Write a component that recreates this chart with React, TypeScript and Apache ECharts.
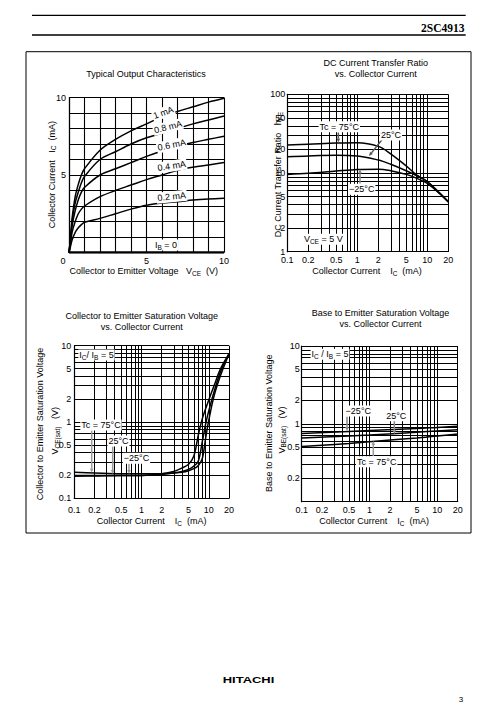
import React, { useEffect, useRef } from 'react';
import * as echarts from 'echarts';

// ---------- Chart 1: Typical Output Characteristics ----------
const vce1 = [0, 0.1, 0.2, 0.4, 0.6, 0.8, 1, 2, 3, 4, 5, 6, 7, 8, 9, 10];
const icIb10 = [0, 1.0, 2.2, 3.6, 4.4, 5.0, 5.4, 6.6, 7.3, 7.85, 8.3, 8.75, 9.1, 9.4, 9.7, 9.95];
const icIb08 = [0, 0.9, 2.0, 3.2, 3.9, 4.5, 4.9, 6.0, 6.5, 7.0, 7.4, 7.7, 8.0, 8.3, 8.55, 8.8];
const icIb06 = [0, 0.8, 1.7, 2.7, 3.4, 3.9, 4.2, 5.0, 5.4, 5.8, 6.2, 6.55, 6.85, 7.1, 7.3, 7.5];
const icIb04 = [0, 0.6, 1.3, 2.0, 2.5, 2.8, 3.0, 3.6, 4.0, 4.35, 4.7, 5.0, 5.3, 5.5, 5.65, 5.8];
const icIb02 = [0, 0.4, 0.8, 1.3, 1.6, 1.8, 1.95, 2.2, 2.5, 2.8, 3.05, 3.2, 3.28, 3.38, 3.45, 3.5];
const icIb00 = [0, 0, 0, 0, 0, 0, 0, 0, 0, 0, 0, 0, 0, 0, 0, 0];
const ticks1Labels = [5, 10];

// ---------- Chart 2: hFE vs Ic ----------
const ic2 = [0.1, 0.2, 0.5, 1, 2, 3, 5, 7, 10, 15, 20];
const hfe75 = [22.7, 23.2, 24.0, 24.3, 21.8, 17.5, 12.3, 9.5, 7.8, 5.5, 4.3];
const hfe25 = [16.1, 16.5, 16.8, 16.5, 14.6, 12.9, 10.7, 9.3, 7.8, 5.6, 4.3];
const hfeM25 = [9.6, 9.9, 10.6, 11.1, 11.2, 10.7, 9.6, 8.6, 7.4, 5.5, 4.3];

// ---------- Chart 3: VCE(sat) vs Ic ----------
const ic3 = [0.1, 0.2, 0.5, 1, 2, 3, 4, 5, 6, 7, 8, 9, 10, 12, 15, 20];
const vceM25 = [0.195, 0.197, 0.2, 0.2, 0.21, 0.225, 0.25, 0.28, 0.36, 0.68, 1.1, 1.5, 1.95, 3.0, 5.0, 7.8];
const vce25 = [0.2, 0.2, 0.2, 0.2, 0.205, 0.215, 0.225, 0.24, 0.265, 0.31, 0.55, 0.95, 1.4, 2.5, 4.6, 7.8];
const vce75 = [0.22, 0.215, 0.21, 0.21, 0.21, 0.215, 0.22, 0.23, 0.245, 0.27, 0.33, 0.62, 1.05, 2.2, 4.1, 7.8];

// ---------- Chart 4: VBE(sat) vs Ic ----------
const ic4 = [0.1, 0.5, 1, 5, 10, 20];
const vbeM25 = [0.75, 0.8, 0.82, 0.87, 0.9, 0.93];
const vbe25 = [0.66, 0.7, 0.72, 0.78, 0.81, 0.84];
const vbe75 = [0.51, 0.56, 0.59, 0.66, 0.7, 0.74];

// ---------- Log-grid ticks and labels ----------
const xGridLog = [0.1, 0.2, 0.3, 0.4, 0.5, 0.6, 0.7, 0.8, 0.9, 1, 2, 3, 4, 5, 6, 7, 8, 9, 10, 20];
const yGrid2 = [1, 2, 3, 4, 5, 6, 7, 8, 9, 10, 20, 30, 40, 50, 60, 70, 80, 90, 100];
const yGrid34 = [0.1, 0.2, 0.3, 0.4, 0.5, 0.6, 0.7, 0.8, 0.9, 1, 2, 3, 4, 5, 6, 7, 8, 9, 10];
const xLabelsLog = [0.1, 0.2, 0.5, 1, 2, 5, 10, 20];
const yLabels2 = [1, 2, 5, 10, 20, 50, 100];
const yLabels3 = [0.1, 0.2, 0.5, 1, 2, 5, 10];
const yLabels4 = [0.2, 0.5, 1, 2, 5, 10];

const L = (v: number) => Math.log10(v);
const BLACK = '#000';
const FF = '"Liberation Sans", Arial, Helvetica, sans-serif';
const RICH = {
  n: { fontSize: 9, lineHeight: 11, fontFamily: FF, fill: BLACK, color: BLACK },
  s: { fontSize: 6.5, lineHeight: 5, verticalAlign: 'bottom', fontFamily: FF, fill: BLACK, color: BLACK },
};

function labelFmt(list: number[]) {
  return (v: number) => {
    const f = list.find((t) => Math.abs(L(t) - v) < 1e-6);
    return f === undefined ? '' : String(f);
  };
}

const labelStyle = { color: BLACK, fontFamily: FF, fontSize: 9 };

function logAxis(gridIndex: number, min: number, max: number, labels: number[], margin: number) {
  return {
    gridIndex,
    type: 'value',
    min: L(min),
    max: L(max),
    splitLine: { show: false },
    axisTick: { show: false },
    axisLine: { show: true, onZero: false, lineStyle: { color: BLACK, width: 1.2 } },
    axisLabel: { ...labelStyle, customValues: labels.map(L), formatter: labelFmt(labels), margin },
  };
}

function linAxis(gridIndex: number, margin: number) {
  return {
    gridIndex,
    type: 'value',
    min: 0,
    max: 10,
    interval: 1,
    splitLine: { show: true, lineStyle: { color: BLACK, width: 1.1 } },
    axisTick: { show: false },
    axisLine: { show: true, onZero: false, lineStyle: { color: BLACK, width: 1.2 } },
    axisLabel: {
      ...labelStyle,
      margin,
      formatter: (v: number) => (ticks1Labels.includes(v) ? String(v) : ''),
    },
  };
}

function gridLines(xs: number[], ys: number[]) {
  return {
    silent: true,
    symbol: ['none', 'none'],
    animation: false,
    label: { show: false },
    emphasis: { disabled: true },
    lineStyle: { color: BLACK, width: 1, type: 'solid' },
    data: [...xs.map((v) => ({ xAxis: L(v) })), ...ys.map((v) => ({ yAxis: L(v) }))],
  };
}

function curve(idx: number, xs: number[], ys: number[], log: boolean, extra: any = {}) {
  return {
    type: 'line',
    xAxisIndex: idx,
    yAxisIndex: idx,
    data: xs.map((x, i) => (log ? [L(x), L(ys[i])] : [x, ys[i]])),
    showSymbol: false,
    symbol: 'none',
    smooth: 0.35,
    silent: true,
    z: 5,
    lineStyle: { color: BLACK, width: 1.5 },
    ...extra,
  };
}

function txt(x: number, y: number, text: string, opt: any = {}) {
  return {
    type: 'text',
    x,
    y,
    rotation: opt.rot || 0,
    scaleX: opt.scaleX || 1,
    z: 100,
    style: {
      text,
      fontFamily: opt.ff || FF,
      fontSize: opt.fs || 9,
      fontWeight: opt.fw || 'normal',
      fill: BLACK,
      align: opt.align || 'center',
      verticalAlign: 'middle',
      backgroundColor: opt.bg,
      padding: opt.bg ? [0, 1] : 0,
      rich: RICH,
    },
  };
}

function arrow(x1: number, y1: number, x2: number, y2: number, color = '#808080') {
  const ang = Math.atan2(y2 - y1, x2 - x1);
  const hl = 4;
  const hw = 1.8;
  const bx = x2 - hl * Math.cos(ang);
  const by = y2 - hl * Math.sin(ang);
  const px = -Math.sin(ang) * hw;
  const py = Math.cos(ang) * hw;
  return [
    { type: 'line', z: 90, shape: { x1, y1, x2: bx, y2: by }, style: { stroke: color, lineWidth: 1.5 } },
    { type: 'polygon', z: 90, shape: { points: [[x2, y2], [bx + px, by + py], [bx - px, by - py]] }, style: { fill: color } },
  ];
}

export default function App() {
  const ref = useRef<HTMLDivElement>(null);
  useEffect(() => {
    if (!ref.current) return;
    const chart = echarts.init(ref.current, null, { renderer: 'svg' });
    const option: any = {
      animation: false,
      backgroundColor: '#fff',
      grid: [
        { left: 69, top: 97.5, width: 155, height: 155 },
        { left: 287.3, top: 94.3, width: 161, height: 157.4 },
        { left: 74.3, top: 345.7, width: 154.7, height: 152.7 },
        { left: 301.7, top: 346, width: 156, height: 155.7 },
      ],
      xAxis: [
        linAxis(0, 4),
        logAxis(1, 0.1, 20, xLabelsLog, 4),
        logAxis(2, 0.1, 20, xLabelsLog, 7),
        logAxis(3, 0.1, 20, xLabelsLog, 4),
      ],
      yAxis: [
        linAxis(0, 3),
        logAxis(1, 1, 100, yLabels2, 2),
        logAxis(2, 0.1, 10, yLabels3, 3),
        logAxis(3, 0.1, 10, yLabels4, 2),
      ],
      series: [
        curve(0, vce1, icIb10, false),
        curve(0, vce1, icIb08, false),
        curve(0, vce1, icIb06, false),
        curve(0, vce1, icIb04, false),
        curve(0, vce1, icIb02, false),
        curve(0, vce1, icIb00, false, { smooth: false, lineStyle: { color: BLACK, width: 2.5 } }),
        curve(1, ic2, hfe75, true, { markLine: gridLines(xGridLog, yGrid2) }),
        curve(1, ic2, hfe25, true),
        curve(1, ic2, hfeM25, true),
        curve(2, ic3, vce75, true, { markLine: gridLines(xGridLog, yGrid34) }),
        curve(2, ic3, vce25, true),
        curve(2, ic3, vceM25, true),
        curve(3, ic4, vbe75, true, { markLine: gridLines(xGridLog, yGrid34) }),
        curve(3, ic4, vbe25, true),
        curve(3, ic4, vbeM25, true),
      ],
      graphic: [
        // page header / frame / footer
        { type: 'line', z: 100, shape: { x1: 32, y1: 15.3, x2: 465.7, y2: 15.3 }, style: { stroke: BLACK, lineWidth: 1.3 } },
        { type: 'line', z: 100, shape: { x1: 32, y1: 35, x2: 465.7, y2: 35 }, style: { stroke: BLACK, lineWidth: 1.3 } },
        txt(464.5, 27.8, '2SC4913', { align: 'right', ff: '"Liberation Serif", "Times New Roman", serif', fs: 11.5, fw: 'bold' }),
        { type: 'rect', z: 100, shape: { x: 26, y: 51.7, width: 445, height: 481.3 }, style: { fill: 'none', stroke: BLACK, lineWidth: 1 } },
        txt(248.5, 680, 'HITACHI', { fs: 9, fw: 'bold', scaleX: 1.44 }),
        txt(461, 699, '3', { fs: 8 }),

        // chart 1
        txt(146, 74, 'Typical Output Characteristics'),
        txt(143.7, 271, '{n|Collector to Emitter Voltage   V}{s|CE}{n|  (V)}'),
        txt(51.7, 174.7, '{n|Collector Current   I}{s|C}{n|  (mA)}', { rot: Math.PI / 2 }),
        txt(63, 261, '0'),
        txt(163.3, 112.7, '{n|1 mA}', { rot: 0.34, bg: '#fff' }),
        txt(168, 127, '{n|0.8 mA}', { rot: 0.25, bg: '#fff' }),
        txt(171.7, 145, '{n|0.6 mA}', { rot: 0.2, bg: '#fff' }),
        txt(171.7, 166, '{n|0.4 mA}', { rot: 0.15, bg: '#fff' }),
        txt(171.7, 196.7, '{n|0.2 mA}', { rot: 0.1, bg: '#fff' }),
        txt(166, 245, '{n|I}{s|B}{n| = 0}', { bg: '#fff' }),

        // chart 2
        txt(375.7, 63.3, 'DC Current Transfer Ratio'),
        txt(375.7, 74.3, 'vs. Collector Current'),
        txt(367, 271, '{n|Collector Current    I}{s|C}{n|  (mA)}'),
        txt(278.3, 174.7, '{n|DC Current Transfer Ratio   h}{s|FE}', { rot: Math.PI / 2 }),
        txt(339.3, 126.7, '{n|Tc = 75°C}', { bg: '#fff' }),
        txt(391, 135, '{n|25°C}', { bg: '#fff' }),
        txt(361.7, 189.3, '{n|−25°C}', { bg: '#fff' }),
        txt(323.3, 239.3, '{n|V}{s|CE}{n| = 5 V}', { bg: '#fff' }),
        ...arrow(338.3, 132.5, 338.3, 142.5, '#555'),
        ...arrow(382.3, 139.3, 369, 156, '#555'),
        ...arrow(360, 183.5, 360, 169.3, '#888'),

        // chart 3
        txt(141.7, 316, 'Collector to Emitter Saturation Voltage'),
        txt(141.7, 326.7, 'vs. Collector Current'),
        txt(151.7, 521, '{n|Collector Current    I}{s|C}{n|  (mA)}'),
        txt(40, 424, 'Collector to Emitter Saturation Voltage', { rot: Math.PI / 2 }),
        txt(55, 430.8, '{n|V}{s|CE(sat)}{n|   (V)}', { rot: Math.PI / 2 }),
        txt(96.5, 355, '{n|I}{s|C}{n|/ I}{s|B}{n| = 5}', { bg: '#fff' }),
        txt(101, 425, '{n|Tc = 75°C}', { bg: '#fff' }),
        txt(118.5, 441, '{n|25°C}', { bg: '#fff' }),
        txt(136.5, 458.3, '{n|−25°C}', { bg: '#fff' }),
        ...arrow(91.7, 430.5, 91.7, 472.5, '#999'),
        ...arrow(112.7, 446.5, 112.7, 474, '#999'),
        ...arrow(129, 463.5, 129, 474, '#999'),

        // chart 4
        txt(380.5, 313.3, 'Base to Emitter Saturation Voltage'),
        txt(380.5, 324, 'vs. Collector Current'),
        txt(374.2, 521, '{n|Collector Current    I}{s|C}{n|  (mA)}'),
        txt(269, 423.3, 'Base to Emitter Saturation Voltage', { rot: Math.PI / 2 }),
        txt(281.7, 430, '{n|V}{s|BE(sat)}{n|   (V)}', { rot: Math.PI / 2 }),
        txt(330, 354.3, '{n|I}{s|C}{n| / I}{s|B}{n| = 5}', { bg: '#fff' }),
        txt(358.3, 411, '{n|−25°C}', { bg: '#fff' }),
        txt(396.3, 415.7, '{n|25°C}', { bg: '#fff' }),
        txt(376.7, 461.7, '{n|Tc = 75°C}', { bg: '#fff' }),
        ...arrow(347, 416.5, 347, 431, '#888'),
        ...arrow(394.3, 420, 394.3, 434.3, '#888'),
        ...arrow(373.3, 456.5, 373.3, 441, '#999'),
      ],
    };
    chart.setOption(option);
    return () => chart.dispose();
  }, []);
  return (
    <div
      ref={ref}
      style={{ position: 'absolute', left: 0, top: 0, width: 498, height: 712, background: '#fff' }}
    />
  );
}
